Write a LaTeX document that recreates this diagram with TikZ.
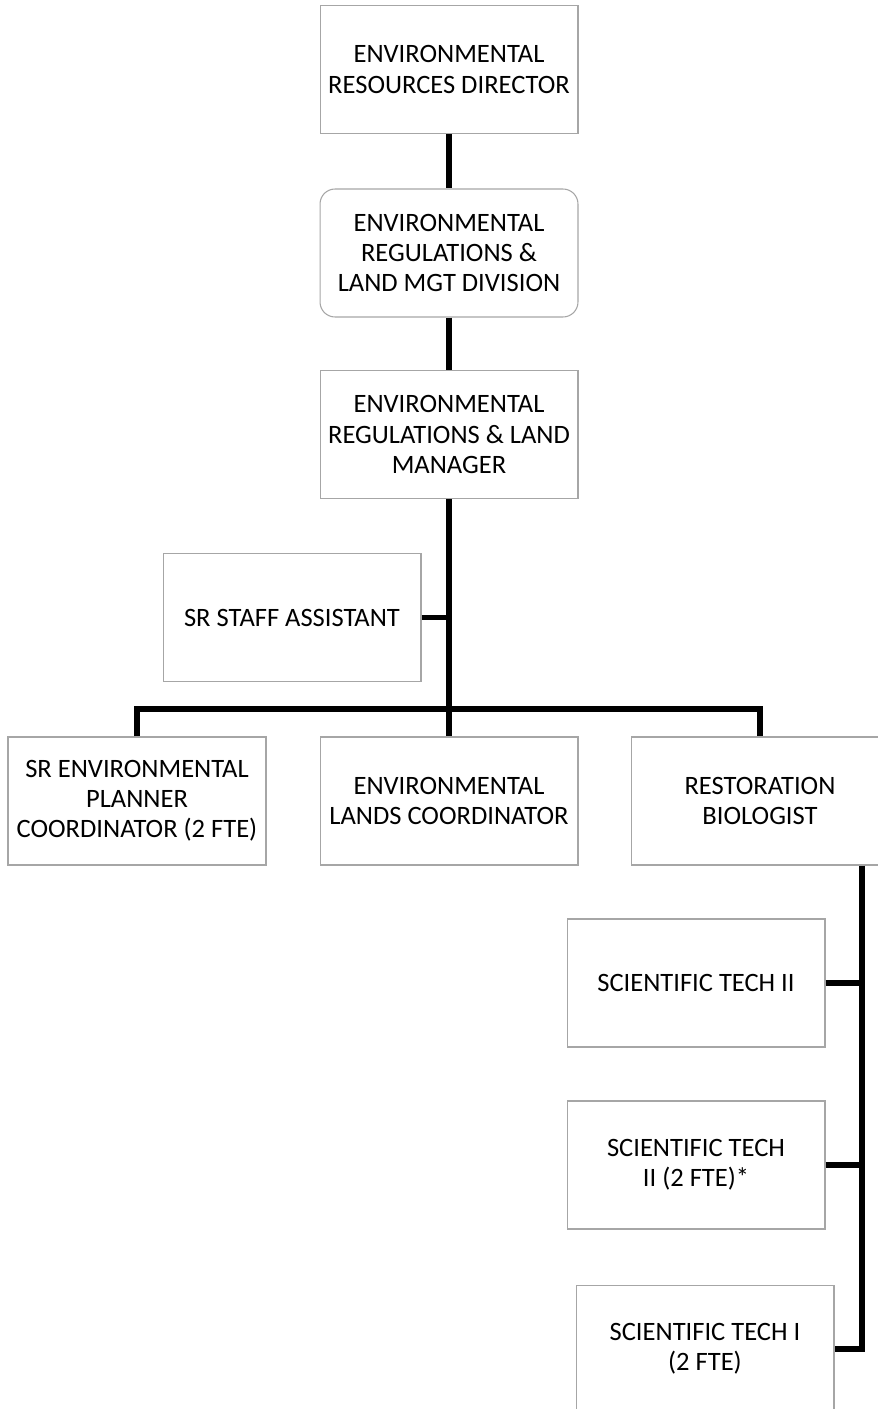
\documentclass[tikz,border=0pt]{standalone}
\usepackage{fontspec}
\setmainfont{Carlito}
\definecolor{boxgray}{RGB}{166,166,166}
\tikzset{every node/.style={font=\fontsize{15.1}{17.1}\selectfont, align=center},
  post/.style={draw=boxgray, line width=0.6pt, minimum width=5.16cm, minimum height=2.56cm, inner sep=2pt},
  unit/.style={post, rounded corners=0.3cm},
  link/.style={black, line width=3pt}}

\begin{document}
\begin{tikzpicture}[x=0.02cm, y=-0.02cm]
   \useasboundingbox (0,0) rectangle (878,1409);
   \clip (0,0) rectangle (878,1409);
   \node[post] (dir) at (449,69.5) {ENVIRONMENTAL\\RESOURCES DIRECTOR};
   \node[unit] (div) at (449,253) {ENVIRONMENTAL\\REGULATIONS \&\\LAND MGT DIVISION};
   \node[post] (mgr) at (449,434.5) {ENVIRONMENTAL\\REGULATIONS \& LAND\\MANAGER};
   \node[post] (asst) at (292,617.5) {SR STAFF ASSISTANT};
   \node[post] (plan) at (137,801) {SR ENVIRONMENTAL\\PLANNER\\COORDINATOR (2 FTE)};
   \node[post] (lands) at (449,801) {ENVIRONMENTAL\\LANDS COORDINATOR};
   \node[post] (resto) at (760,801) {RESTORATION\\BIOLOGIST};
   \node[post] (tech2) at (696,983) {SCIENTIFIC TECH II};
   \node[post] (tech2b) at (696,1165) {SCIENTIFIC TECH\\II (2 FTE)*};
   \node[post] (tech1) at (705,1349) {SCIENTIFIC TECH I\\(2 FTE)};
   \coordinate (bus) at (449,709);
   \coordinate (spine) at ([xshift=2.04cm]resto.south);
   \draw[link] (dir.south) -- (div.north);
   \draw[link] (div.south) -- (mgr.north);
   \draw[link] (mgr.south) -- (lands.north);
   \draw[link] (asst.east) -- (asst.east -| mgr.south);
   \draw[link] (plan.north) |- (bus) -| (resto.north);
   \draw[link] (spine) |- (tech1.east);
   \draw[link] (tech2.east) -- (tech2.east -| spine);
   \draw[link] (tech2b.east) -- (tech2b.east -| spine);
  \end{tikzpicture}
\end{document}
